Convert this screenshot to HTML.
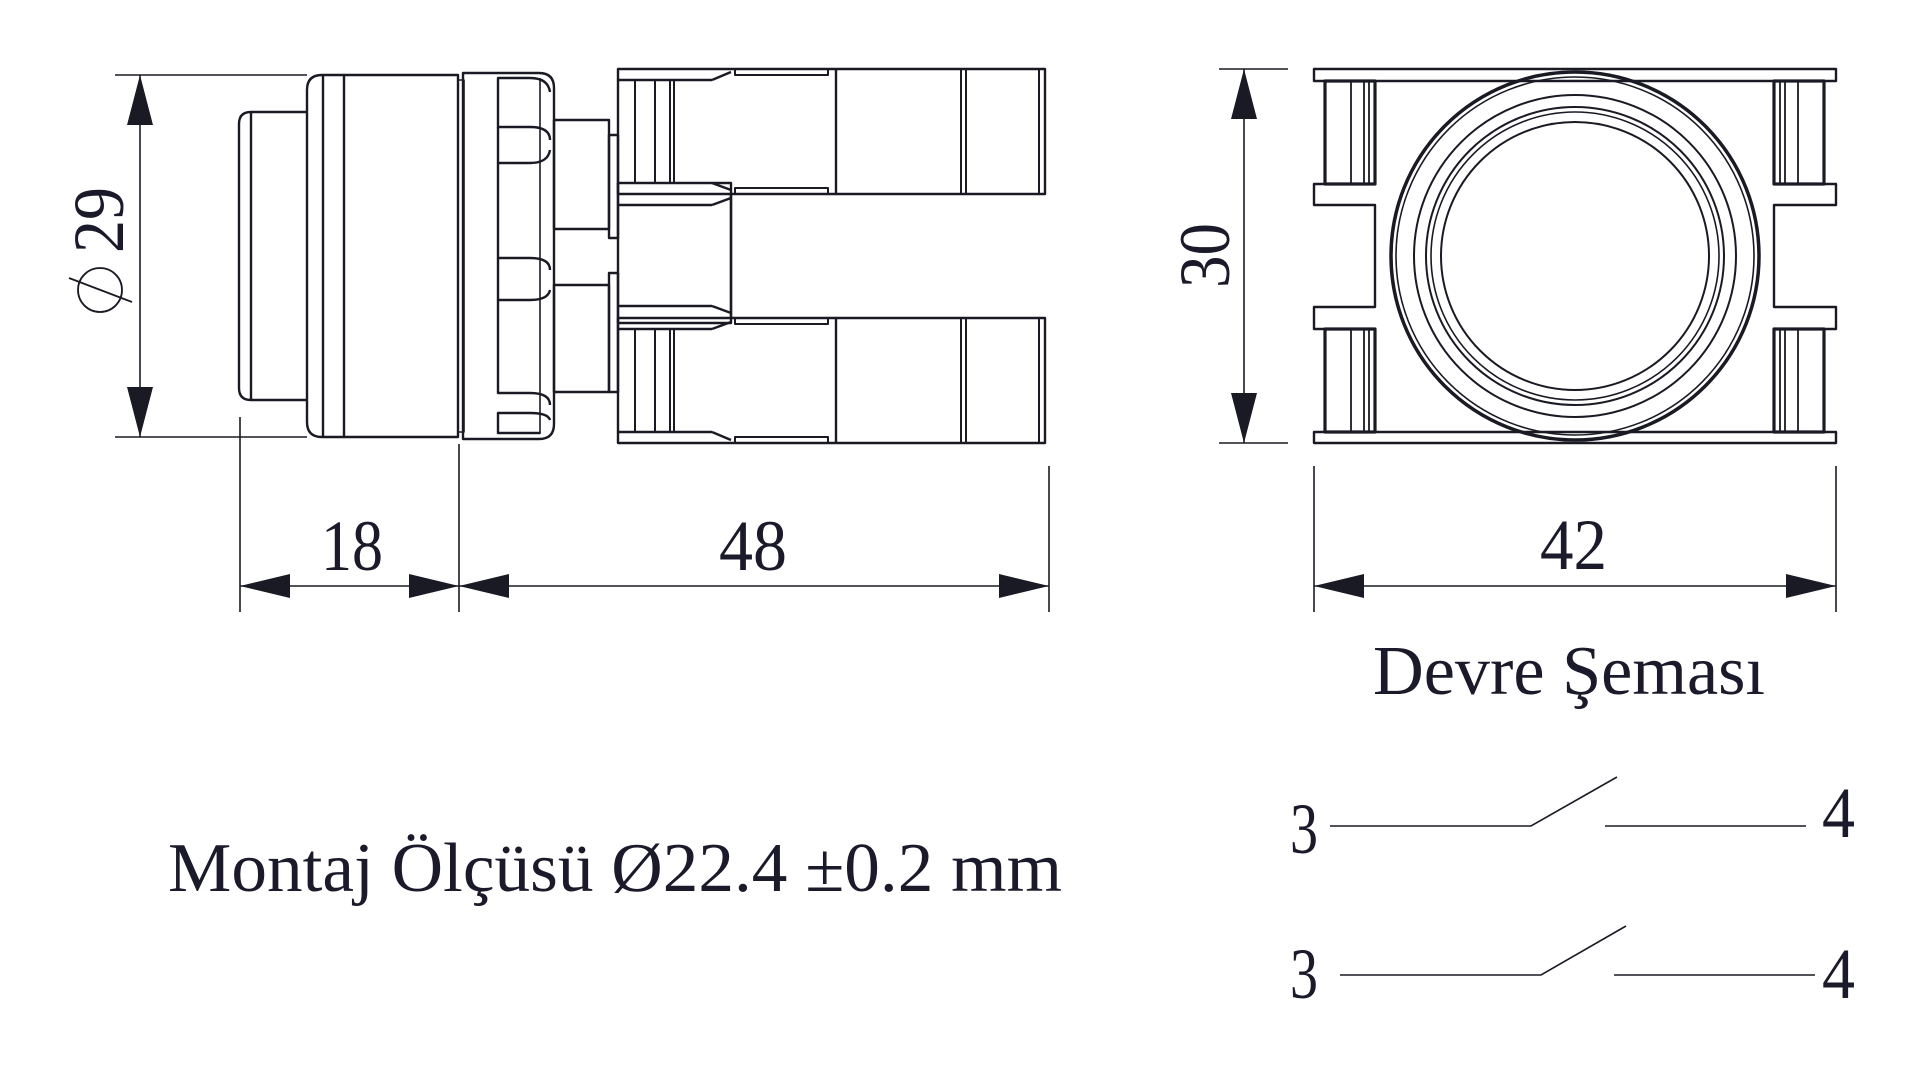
<!DOCTYPE html>
<html><head><meta charset="utf-8"><style>
html,body{margin:0;padding:0;background:#fff;}
svg{display:block;}
text{font-family:"Liberation Serif",serif;fill:#1b1a2b;}
</style></head><body>
<svg width="1920" height="1067" viewBox="0 0 1920 1067" xmlns="http://www.w3.org/2000/svg">
<g fill="none" stroke="#1a1a24" stroke-width="2.4" stroke-linejoin="round">
<!-- button -->
<path d="M307,112 H251 Q239,112 239,124 V388 Q239,400 251,400 H307"/>
<line x1="251" y1="112" x2="251" y2="400"/>
<!-- body -->
<path d="M458,75 H322 Q307,75 307,90 V422 Q307,437 322,437 H458 Z"/>
<line x1="323" y1="75" x2="323" y2="437"/>
<line x1="344" y1="75" x2="344" y2="437"/>
<rect x="458" y="80" width="6" height="352" stroke-width="1.6"/>
<!-- bezel -->
<path d="M463,73 H539 Q554,73 554,88 V424 Q554,439 539,439 H463 Z"/>
<line x1="540" y1="78" x2="540" y2="434" stroke-width="1.6"/>
<path d="M550,92 Q548,78 530,78 H498 V127 H530 Q550,127 550,140"/>
<path d="M550,150 Q548,163 530,163 H498 V258 H530 Q550,258 550,270"/>
<path d="M550,290 Q548,300 530,300 H498 V393 H530 Q550,393 550,405"/>
<path d="M550,420 Q548,413 530,413 H498 V433 H540"/>
<line x1="498" y1="127" x2="498" y2="163"/>
<line x1="498" y1="258" x2="498" y2="300"/>
<!-- stem -->
<rect x="554" y="120" width="55" height="109"/>
<rect x="554" y="285" width="55" height="107"/>
<rect x="609" y="135" width="9" height="103"/>
<rect x="609" y="273" width="9" height="119"/>
<!-- contact blocks -->
<rect x="618" y="69" width="427" height="125"/>
<rect x="618" y="318" width="427" height="125"/>
<rect x="618" y="183" width="113" height="140"/>
<line x1="618" y1="80" x2="712" y2="80"/><line x1="712" y1="80" x2="731" y2="72"/>
<line x1="618" y1="432" x2="712" y2="432"/><line x1="712" y1="432" x2="731" y2="440"/>
<line x1="618" y1="205" x2="712" y2="205"/><line x1="712" y1="205" x2="731" y2="198"/>
<line x1="618" y1="306" x2="712" y2="306"/><line x1="712" y1="306" x2="731" y2="313"/>
<line x1="712" y1="183" x2="731" y2="190"/><line x1="712" y1="329" x2="731" y2="322"/>
<line x1="618" y1="329" x2="712" y2="329"/>
<g stroke-width="2">
<line x1="635" y1="80" x2="635" y2="183"/><line x1="655" y1="80" x2="655" y2="183"/><line x1="670" y1="80" x2="670" y2="183"/><line x1="674" y1="80" x2="674" y2="183"/>
<line x1="635" y1="329" x2="635" y2="432"/><line x1="655" y1="329" x2="655" y2="432"/><line x1="670" y1="329" x2="670" y2="432"/><line x1="674" y1="329" x2="674" y2="432"/>
<rect x="735" y="69" width="93" height="6"/><rect x="735" y="188" width="93" height="6"/>
<rect x="735" y="318" width="93" height="6"/><rect x="735" y="437" width="93" height="6"/>
<line x1="961" y1="69" x2="961" y2="194"/><line x1="966" y1="69" x2="966" y2="194"/><line x1="1039" y1="69" x2="1039" y2="194"/>
<line x1="961" y1="318" x2="961" y2="443"/><line x1="966" y1="318" x2="966" y2="443"/><line x1="1039" y1="318" x2="1039" y2="443"/>
</g>
<line x1="836" y1="69" x2="836" y2="194"/><line x1="836" y1="318" x2="836" y2="443"/>
<line x1="731" y1="194" x2="731" y2="318"/>

<!-- right view -->
<rect x="1314" y="69" width="522" height="12"/>
<rect x="1314" y="432" width="522" height="11"/>
<path d="M1375,184 H1314 V205 H1375 V307 H1314 V329 H1375"/>
<path d="M1774,184 H1836 V205 H1774 V307 H1836 V329 H1774"/>
<rect x="1325" y="81" width="50" height="103" stroke-width="3.2"/>
<rect x="1325" y="329" width="50" height="103" stroke-width="3.2"/>
<rect x="1774" y="81" width="50" height="103" stroke-width="3.2"/>
<rect x="1774" y="329" width="50" height="103" stroke-width="3.2"/>
<g stroke-width="1.8">
<line x1="1351" y1="81" x2="1351" y2="184"/><line x1="1364" y1="81" x2="1364" y2="184"/><line x1="1369" y1="81" x2="1369" y2="184"/>
<line x1="1351" y1="329" x2="1351" y2="432"/><line x1="1364" y1="329" x2="1364" y2="432"/><line x1="1369" y1="329" x2="1369" y2="432"/>
<line x1="1798" y1="81" x2="1798" y2="184"/><line x1="1785" y1="81" x2="1785" y2="184"/><line x1="1780" y1="81" x2="1780" y2="184"/>
<line x1="1798" y1="329" x2="1798" y2="432"/><line x1="1785" y1="329" x2="1785" y2="432"/><line x1="1780" y1="329" x2="1780" y2="432"/>
</g>
<circle cx="1575" cy="256" r="184" stroke-width="3.5"/>
<circle cx="1575" cy="256" r="179" stroke-width="1.6"/>
<circle cx="1575" cy="256" r="161" stroke-width="2"/>
<circle cx="1575" cy="256" r="149" stroke-width="2"/>
<circle cx="1575" cy="256" r="144" stroke-width="1.6"/>
<circle cx="1575" cy="256" r="134" stroke-width="2"/>
</g>

<!-- dimensions -->
<g stroke="#1a1a24" stroke-width="1.6" fill="none">
<line x1="115" y1="75" x2="307" y2="75"/><line x1="115" y1="437" x2="307" y2="437"/>
<line x1="140" y1="75" x2="140" y2="437"/>
<line x1="240" y1="417" x2="240" y2="612"/><line x1="459" y1="444" x2="459" y2="612"/><line x1="1049" y1="466" x2="1049" y2="612"/>
<line x1="240" y1="586" x2="1049" y2="586"/>
<line x1="1219" y1="69" x2="1288" y2="69"/><line x1="1219" y1="443" x2="1288" y2="443"/>
<line x1="1244" y1="69" x2="1244" y2="443"/>
<line x1="1314" y1="466" x2="1314" y2="612"/><line x1="1836" y1="466" x2="1836" y2="612"/>
<line x1="1314" y1="586" x2="1836" y2="586"/>
<!-- schematic -->
<polyline points="1330,826 1531,826 1617,777"/>
<line x1="1605" y1="826" x2="1806" y2="826"/>
<polyline points="1340,975 1541,975 1626,926"/>
<line x1="1614" y1="975" x2="1815" y2="975"/>
<!-- phi -->
<circle cx="100" cy="290" r="22" stroke-width="1.8"/>
<line x1="69" y1="278" x2="132" y2="302" stroke-width="1.8"/>
</g>
<g fill="#1a1a24">
<polygon points="140,75 127,125 153,125"/><polygon points="140,437 127,387 153,387"/>
<polygon points="240,586 290,574 290,598"/><polygon points="459,586 409,574 409,598"/>
<polygon points="459,586 509,574 509,598"/><polygon points="1049,586 999,574 999,598"/>
<polygon points="1244,69 1231,119 1257,119"/><polygon points="1244,443 1231,393 1257,393"/>
<polygon points="1314,586 1364,574 1364,598"/><polygon points="1836,586 1786,574 1786,598"/>
</g>

<text x="321" y="570" font-size="72" textLength="62" lengthAdjust="spacingAndGlyphs">18</text>
<text x="719" y="570" font-size="72" textLength="68" lengthAdjust="spacingAndGlyphs">48</text>
<text x="1540" y="569" font-size="72" textLength="67" lengthAdjust="spacingAndGlyphs">42</text>
<text transform="translate(123,253) rotate(-90)" font-size="72" textLength="66" lengthAdjust="spacingAndGlyphs">29</text>
<text transform="translate(1229,288) rotate(-90)" font-size="72" textLength="65" lengthAdjust="spacingAndGlyphs">30</text>
<text x="1373" y="694" font-size="70" textLength="392" lengthAdjust="spacingAndGlyphs">Devre Şeması</text>
<text x="168" y="891" font-size="70" textLength="894" lengthAdjust="spacingAndGlyphs">Montaj Ölçüsü Ø22.4 ±0.2 mm</text>
<text x="1290" y="853" font-size="72" textLength="28" lengthAdjust="spacingAndGlyphs">3</text>
<text x="1822" y="837" font-size="72" textLength="33" lengthAdjust="spacingAndGlyphs">4</text>
<text x="1290" y="998" font-size="72" textLength="28" lengthAdjust="spacingAndGlyphs">3</text>
<text x="1822" y="998" font-size="72" textLength="33" lengthAdjust="spacingAndGlyphs">4</text>
</svg>
</body></html>
